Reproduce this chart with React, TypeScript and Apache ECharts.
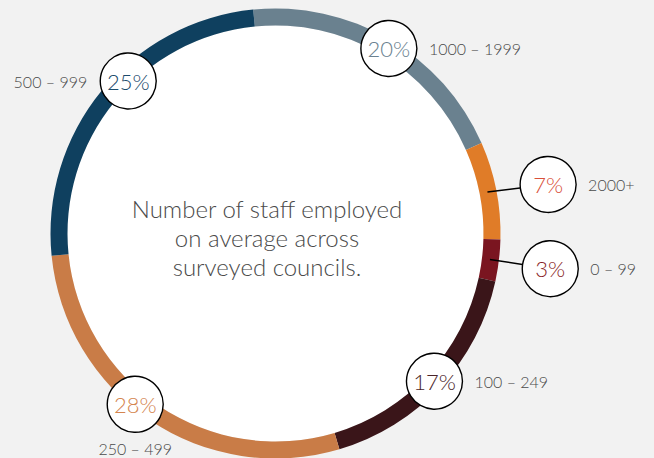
import React, { useEffect, useRef } from "react";
import * as echarts from "echarts";

const categories = ["1000 – 1999", "2000+", "0 – 99", "100 – 249", "250 – 499", "500 – 999"];
const shares = [20, 7, 3, 17, 28, 25];
const segmentColors = ["#6a818f", "#e07c28", "#7a1520", "#3a1519", "#c97c47", "#0f405f"];
const percentColors = ["#6a818f", "#d9503a", "#8a1f28", "#4a2428", "#d4854f", "#1b4b6c"];
const centerLines = ["Number of staff employed", "on average across", "surveyed councils."];

export default function App() {
  const ref = useRef<HTMLDivElement>(null);
  useEffect(() => {
    if (!ref.current) return;
    const chart = echarts.init(ref.current, null, { renderer: "svg" });
    const cx = 275.5;
    const cy = 233.5;
    const rOuter = 225;
    const rInner = 208;
    const startOffset = -5.7; // degrees clockwise from 12 o'clock
    const total = shares.reduce((a, b) => a + b, 0);
    const pt = (a: number, r: number) => {
      const rad = (a * Math.PI) / 180;
      return [cx + r * Math.sin(rad), cy - r * Math.cos(rad)];
    };
    // label layout per segment (presentation only)
    const layout = [
      { mode: "ring", r: 217, da: 1.2, side: "right" },
      { mode: "out", r: 277, da: 0.9, side: "right" },
      { mode: "out", r: 277, da: 0.4, side: "right" },
      { mode: "ring", r: 217, da: 0, side: "right" },
      { mode: "ring", r: 221, da: 5.5, side: "below" },
      { mode: "ring", r: 212, da: 6.7, side: "left" },
    ];
    const circR = 28;
    const graphics: any[] = [];
    let acc = 0;
    shares.forEach((v, i) => {
      const mid = startOffset + ((acc + v / 2) / total) * 360;
      acc += v;
      const L = layout[i];
      const a = mid + L.da;
      const [x, y] = pt(a, L.r);
      if (L.mode === "out") {
        const [x0, y0] = pt(mid, 216);
        graphics.push({
          type: "line",
          z: 100,
          shape: { x1: x0, y1: y0, x2: x, y2: y },
          style: { stroke: "#000", lineWidth: 1.5 },
        });
      }
      graphics.push({
        type: "circle",
        z: 101,
        shape: { cx: x, cy: y, r: circR },
        style: { fill: "#fff", stroke: "#000", lineWidth: 1.4 },
      });
      graphics.push({
        type: "text",
        z: 102,
        x: x,
        y: y,
        style: {
          text: shares[i] + "%",
          fill: percentColors[i],
          font: "300 22px Lato",
          align: "center",
          verticalAlign: "middle",
          textAlign: "center",
          textVerticalAlign: "middle",
        },
      });
      let tx = x + circR + 12;
      let ty = y;
      let al = "left";
      if (L.side === "left") {
        tx = x - circR - 13;
        al = "right";
      } else if (L.side === "below") {
        tx = x;
        ty = y + circR + 16;
        al = "center";
      }
      graphics.push({
        type: "text",
        z: 102,
        x: tx,
        y: ty,
        style: {
          text: categories[i],
          fill: "#4a4a4a",
          font: "300 16px Lato",
          align: al,
          verticalAlign: "middle",
          textAlign: al,
          textVerticalAlign: "middle",
        },
      });
    });
    graphics.push({
      type: "text",
      z: 102,
      x: 267,
      y: 237,
      style: {
        text: centerLines.join("\n"),
        fill: "#4a4a4a",
        font: "300 24px Lato",
        lineHeight: 29,
        align: "center",
        verticalAlign: "middle",
        textAlign: "center",
        textVerticalAlign: "middle",
      },
    });

    chart.setOption({
      animation: false,
      backgroundColor: "#f2f2f2",
      series: [
        {
          type: "pie",
          silent: true,
          center: [cx, cy],
          radius: [0, rInner],
          label: { show: false },
          labelLine: { show: false },
          itemStyle: { color: "#ffffff" },
          data: [{ value: 1, name: "bg" }],
          z: 1,
        },
        {
          type: "pie",
          silent: true,
          center: [cx, cy],
          radius: [rInner, rOuter],
          startAngle: 90 - startOffset,
          clockwise: true,
          label: { show: false },
          labelLine: { show: false },
          data: shares.map((v, i) => ({
            value: v,
            name: categories[i],
            itemStyle: { color: segmentColors[i] },
          })),
          z: 2,
        },
      ],
      graphic: graphics,
    });
    return () => chart.dispose();
  }, []);
  return (
    <div
      ref={ref}
      style={{ position: "fixed", left: 0, top: 0, width: 654, height: 458 }}
    />
  );
}
